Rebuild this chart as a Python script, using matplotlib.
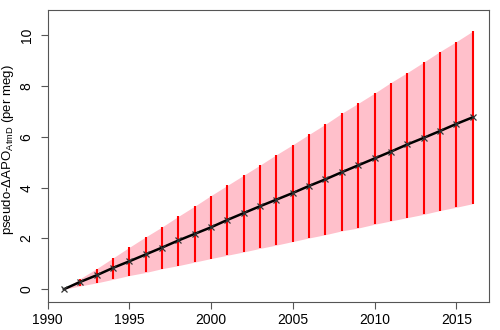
import matplotlib
matplotlib.use("Agg")
import matplotlib.pyplot as plt
import numpy as np

years = list(range(1991, 2017))
mean = [0.0, 0.29, 0.55, 0.84, 1.10, 1.37, 1.64, 1.92, 2.18, 2.44, 2.73, 3.00,
        3.27, 3.53, 3.79, 4.07, 4.33, 4.61, 4.88, 5.15, 5.42, 5.70, 5.96, 6.23, 6.51, 6.77]
upper = [0.0, 0.42, 0.81, 1.23, 1.65, 2.06, 2.45, 2.87, 3.27, 3.69, 4.09, 4.49,
         4.89, 5.30, 5.69, 6.10, 6.50, 6.93, 7.32, 7.72, 8.14, 8.53, 8.94, 9.36, 9.75, 10.16]
lower = [0.0, 0.13, 0.25, 0.39, 0.54, 0.66, 0.81, 0.93, 1.07, 1.21, 1.34, 1.47,
         1.61, 1.74, 1.88, 2.02, 2.15, 2.30, 2.41, 2.56, 2.69, 2.82, 2.95, 3.10, 3.23, 3.37]
xticks = [1990, 1995, 2000, 2005, 2010, 2015]
yticks = [0, 2, 4, 6, 8, 10]

plt.rcParams['font.family'] = ['Liberation Sans', 'DejaVu Sans']
plt.rcParams['mathtext.fontset'] = 'custom'
plt.rcParams['mathtext.rm'] = 'Liberation Sans'

fig = plt.figure(figsize=(5, 3.3), dpi=100)
ax = fig.add_axes([0.095, 0.085, 0.883, 0.885])

ax.fill_between(years, lower, upper, color='#ffc0cb', linewidth=0, zorder=1)
ax.vlines(years[1:], lower[1:], upper[1:], color='#ff0000', linewidth=1.5, zorder=2)
ax.plot(years, mean, color='black', linewidth=1.8, zorder=3)
ax.plot(years, mean, linestyle='none', marker='x', color='#333333',
        markersize=5, markeredgewidth=0.9, zorder=4)

ax.set_xlim(1990, 2017)
ax.set_ylim(-0.5, 11.0)
ax.set_xticks(xticks)
ax.set_yticks(yticks)
ax.set_xticklabels([str(t) for t in xticks], fontsize=10)
ax.set_yticklabels([str(t) for t in yticks], fontsize=10, rotation=90, va='center')
ax.tick_params(axis='x', direction='out', length=5, width=0.8, color='#555555', pad=3)
ax.tick_params(axis='y', direction='out', length=5, width=0.8, color='#555555', pad=5)
for s in ax.spines.values():
    s.set_color('#555555')
    s.set_linewidth(0.8)
ax.set_ylabel(r'pseudo-$\Delta$APO$_{\mathrm{AtmD}}$ (per meg)', fontsize=9.5)
ax.yaxis.set_label_coords(-0.071, 0.52)

fig.savefig('out.png', dpi=100)
